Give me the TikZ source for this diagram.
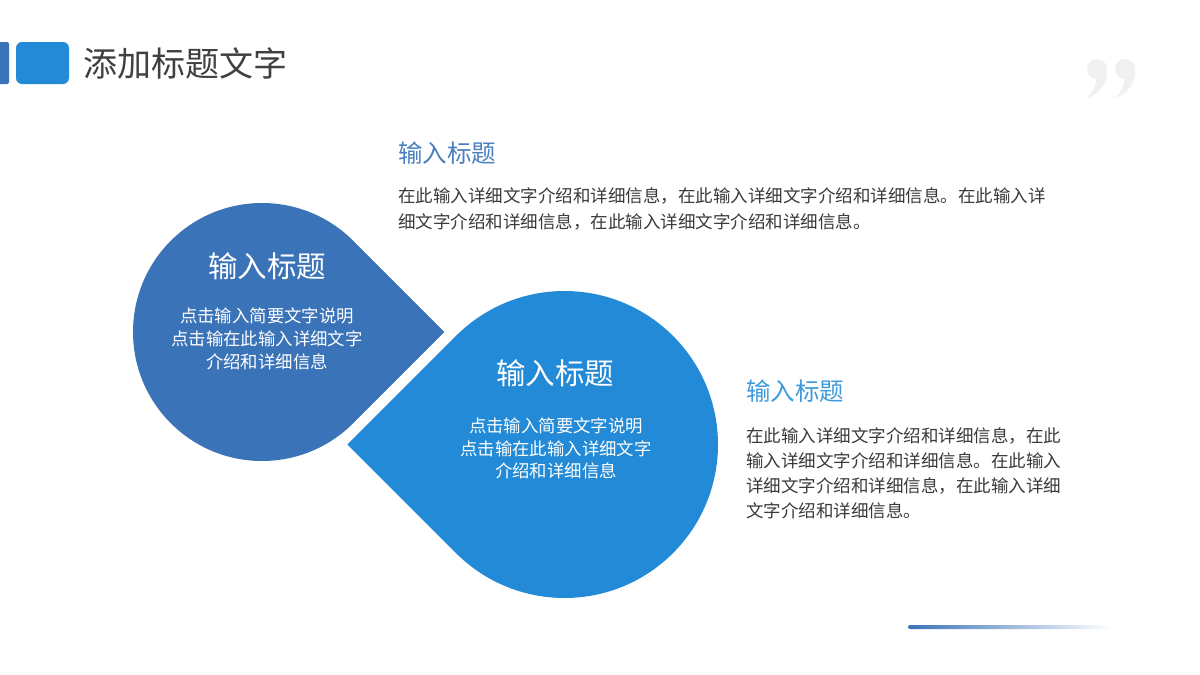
\documentclass[tikz,border=0pt]{standalone}
\usepackage{fontspec}
\usetikzlibrary{calc}
\setmainfont{Noto Sans CJK SC}
\definecolor{darkblue}{HTML}{3A73B8}
\definecolor{midblue}{HTML}{228AD6}
\definecolor{titleblue}{HTML}{4A80C0}
\definecolor{lightblue}{HTML}{3D9ADC}
\definecolor{bodygray}{HTML}{3A3A3A}
\definecolor{headgray}{HTML}{404040}
\definecolor{quotegray}{HTML}{F0F0F0}
\begin{document}
\begin{tikzpicture}[x=1pt,y=-1pt,
  shapetitle/.style={text=white,inner sep=0pt,font=\fontsize{29.5}{34}\selectfont},
  shapetext/.style={text=white,inner sep=0pt,align=center},
  sidetitle/.style={inner sep=0pt,anchor=west,font=\fontsize{24.5}{28}\selectfont},
  sidetext/.style={inner sep=0pt,anchor=north west,align=left,text=bodygray}]
\useasboundingbox (0,0) rectangle (1200,675);
\fill[white] (0,0) rectangle (1200,675);
% header
\fill[darkblue,rounded corners=2pt] (-5,42) rectangle (9,84);
\fill[midblue,rounded corners=6pt] (16,42) rectangle (69,84);
\node[inner sep=0pt,anchor=west,text=headgray,font=\fontsize{34}{38}\selectfont] (head) at (83,63) {添加标题文字};
% quote mark
\foreach \cx in {1097,1125}{
  \fill[quotegray] (\cx-10,69) arc[start angle=180,end angle=360,radius=10]
    .. controls (\cx+11,84) and (\cx+2,94) .. (\cx-10,98)
    .. controls (\cx-5,93) and (\cx-1,87) .. (\cx-1,79)
    .. controls (\cx-6,78) and (\cx-10,74) .. (\cx-10,69) -- cycle;
}
% left teardrop
\coordinate (cl) at (262,332);
\fill[darkblue] ($(cl)+(182.4,0)$) -- ($(cl)+(45:129)$) arc[start angle=45,end angle=315,radius=129] -- cycle;
% right teardrop
\coordinate (cr) at (564.5,444.5);
\fill[midblue] ($(cr)+(-217.1,0)$) -- ($(cr)+(135:153.5)$) arc[start angle=135,end angle=-135,radius=153.5] -- cycle;
% shape texts
\node[shapetitle] (lt) at (267,266) {输入标题};
\node[shapetext,font=\fontsize{17.4}{23}\selectfont] (ls) at (267,339) {点击输入简要文字说明\\点击输在此输入详细文字\\介绍和详细信息};
\node[shapetitle] (rt) at (555,373) {输入标题};
\node[shapetext,font=\fontsize{17.4}{22.5}\selectfont] (rs) at (556,448.5) {点击输入简要文字说明\\点击输在此输入详细文字\\介绍和详细信息};
% side blocks
\node[sidetitle,text=titleblue] (t1) at (398,153) {输入标题};
\node[sidetext,font=\fontsize{17.5}{26}\selectfont] (p1) at (398,187) {在此输入详细文字介绍和详细信息，在此输入详细文字介绍和详细信息。在此输入详\\细文字介绍和详细信息，在此输入详细文字介绍和详细信息。};
\node[sidetitle,text=lightblue] (t2) at (746,391) {输入标题};
\node[sidetext,font=\fontsize{17.5}{25}\selectfont] (p2) at (746,427) {在此输入详细文字介绍和详细信息，在此\\输入详细文字介绍和详细信息。在此输入\\详细文字介绍和详细信息，在此输入详细\\文字介绍和详细信息。};
% bottom gradient line
\shade[left color=darkblue,right color=white,rounded corners=2pt] (908,625) rectangle (1112,629);
\end{tikzpicture}
\end{document}
